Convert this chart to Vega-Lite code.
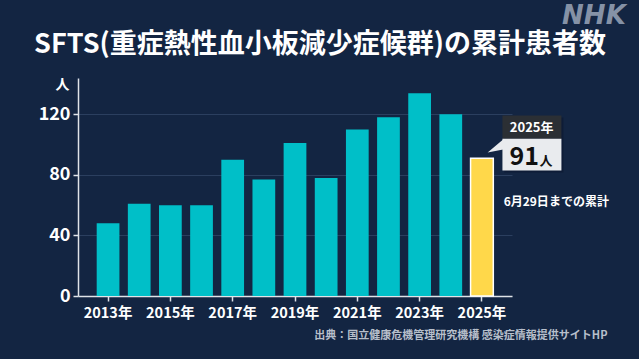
{
  "$schema": "https://vega.github.io/schema/vega-lite/v6.json",
  "autosize": "none",
  "width": 434,
  "height": 218,
  "padding": {"left": 78, "top": 78, "right": 127, "bottom": 63},
  "background": "#132542",
  "config": {
    "font": "Noto Sans CJK JP",
    "view": {"stroke": null}
  },
  "title": {
    "text": "SFTS(重症熱性血小板減少症候群)の累計患者数",
    "anchor": "middle",
    "frame": "group",
    "dx": 25,
    "dy": 77,
    "baseline": "alphabetic",
    "offset": 0,
    "fontSize": 27,
    "fontWeight": "bold",
    "color": "#ffffff",
    "font": "Noto Sans CJK JP"
  },
  "data": {
    "values": [
      {"year": "2013", "value": 48, "kind": "通年"},
      {"year": "2014", "value": 61, "kind": "通年"},
      {"year": "2015", "value": 60, "kind": "通年"},
      {"year": "2016", "value": 60, "kind": "通年"},
      {"year": "2017", "value": 90, "kind": "通年"},
      {"year": "2018", "value": 77, "kind": "通年"},
      {"year": "2019", "value": 101, "kind": "通年"},
      {"year": "2020", "value": 78, "kind": "通年"},
      {"year": "2021", "value": 110, "kind": "通年"},
      {"year": "2022", "value": 118, "kind": "通年"},
      {"year": "2023", "value": 134, "kind": "通年"},
      {"year": "2024", "value": 120, "kind": "通年"},
      {"year": "2025", "value": 91, "kind": "途中"}
    ]
  },
  "encoding": {
    "x": {
      "field": "year",
      "type": "nominal",
      "sort": null,
      "scale": {"paddingInner": 0.27, "paddingOuter": 0.6},
      "axis": {
        "values": ["2013", "2015", "2017", "2019", "2021", "2023", "2025"],
        "labelExpr": "datum.value + '年'",
        "labelAngle": 0,
        "labelColor": "#ffffff",
        "labelFontSize": 14.5,
        "labelFontWeight": "bold",
        "labelFont": "Noto Sans CJK JP",
        "labelPadding": 5,
        "tickColor": "#dfe3e8",
        "tickSize": 5,
        "tickWidth": 1.5,
        "domainColor": "#dfe3e8",
        "domainWidth": 1.5,
        "grid": false,
        "title": "出典：国立健康危機管理研究機構 感染症情報提供サイトHP",
        "titleAnchor": null,
        "titleAlign": "right",
        "titleBaseline": "middle",
        "titleX": 529,
        "titleY": 39,
        "titleFontSize": 11,
        "titleFontWeight": "bold",
        "titleColor": "#b7bfcb",
        "titleFont": "Noto Sans CJK JP"
      }
    },
    "y": {
      "field": "value",
      "type": "quantitative",
      "scale": {"domain": [0, 144], "nice": false},
      "axis": {
        "values": [0, 40, 80, 120],
        "labelColor": "#ffffff",
        "labelFontSize": 18,
        "labelFontWeight": "bold",
        "labelFont": "Noto Sans CJK JP",
        "labelPadding": 3,
        "tickColor": "#dfe3e8",
        "tickSize": 5,
        "tickWidth": 1.5,
        "domainColor": "#dfe3e8",
        "domainWidth": 1.5,
        "gridColor": "#2b3f5f",
        "gridWidth": 1,
        "title": "人",
        "titleAngle": 0,
        "titleX": -16,
        "titleY": 6,
        "titleAlign": "center",
        "titleBaseline": "middle",
        "titleFontSize": 14,
        "titleFontWeight": "bold",
        "titleColor": "#ffffff",
        "titleFont": "Noto Sans CJK JP"
      }
    }
  },
  "layer": [
    {
      "mark": {"type": "bar", "stroke": "#ffffff"},
      "encoding": {
        "color": {
          "field": "kind",
          "type": "nominal",
          "scale": {"domain": ["通年", "途中"], "range": ["#00bfc8", "#ffd84a"]},
          "legend": null
        },
        "strokeWidth": {
          "condition": {"test": "datum.kind == '途中'", "value": 1.5},
          "value": 0
        }
      }
    },
    {
      "transform": [{"filter": "datum.kind == '途中'"}],
      "layer": [
        {
          "mark": {"type": "bar", "width": 59, "xOffset": 52, "yOffset": -40.8, "y2Offset": 14.2, "color": "#0b1830", "opacity": 0.6},
          "encoding": {"y2": {"field": "value"}}
        },
        {
          "mark": {"type": "bar", "width": 59, "xOffset": 50, "yOffset": -42.8, "y2Offset": -19.5, "color": "#2b2f34"},
          "encoding": {"y2": {"field": "value"}}
        },
        {
          "mark": {"type": "bar", "width": 59, "xOffset": 50, "yOffset": -19.5, "y2Offset": 12.2, "color": "#e9ebee"},
          "encoding": {"y2": {"field": "value"}}
        },
        {
          "mark": {"type": "point", "shape": "M-0.8,0.7L0.75,-0.6L0.75,0.4Z", "size": 400, "filled": true, "opacity": 1, "color": "#e9ebee", "xOffset": 13.7, "yOffset": -12.8}
        },
        {
          "mark": {"type": "text", "text": "2025年", "align": "center", "baseline": "middle", "dx": 49.7, "dy": -30.5, "fontSize": 13, "fontWeight": "bold", "color": "#ffffff", "font": "Noto Sans CJK JP"}
        },
        {
          "mark": {"type": "text", "align": "left", "baseline": "alphabetic", "dx": 27.5, "dy": 7, "fontSize": 25, "fontWeight": "bold", "color": "#111111", "font": "Noto Sans CJK JP"},
          "encoding": {"text": {"field": "value", "type": "quantitative"}}
        },
        {
          "mark": {"type": "text", "text": "人", "align": "left", "baseline": "alphabetic", "dx": 57.5, "dy": 7, "fontSize": 13, "fontWeight": "bold", "color": "#111111", "font": "Noto Sans CJK JP"}
        },
        {
          "mark": {"type": "text", "text": "6月29日までの累計", "align": "left", "baseline": "middle", "dx": 21.7, "dy": 44, "fontSize": 12, "fontWeight": "bold", "color": "#ffffff", "font": "Noto Sans CJK JP"}
        },
        {
          "mark": {"type": "text", "text": "NHK", "align": "center", "baseline": "middle", "dx": 112, "dy": -62.5, "fontSize": 26, "fontWeight": "bold", "fontStyle": "italic", "color": "#8592a6", "font": "DejaVu Sans"},
          "encoding": {"y": {"datum": 144}}
        }
      ]
    }
  ]
}
